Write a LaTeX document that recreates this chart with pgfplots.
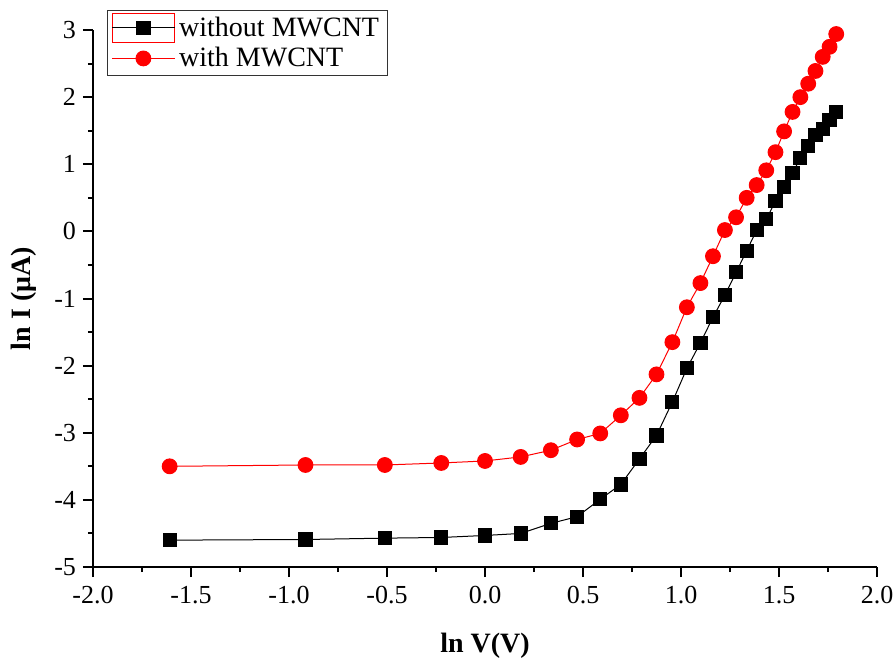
\documentclass[border=0pt]{standalone}
\usepackage{pgfplots}
\pgfplotsset{compat=1.18}
\usepackage{fontspec}
\setmainfont{Liberation Serif}
\pgfplotsset{
  boxlegend/.style={legend image code/.code={
    \draw[red, line width=0.5pt, mark=none, solid] (0cm,-0.26cm) rectangle (1.1cm,0.26cm);
    \draw[mark repeat=2,mark phase=2,##1] plot coordinates {(0cm,0cm) (0.55cm,0cm) (1.1cm,0cm)};
  }},
  longlegend/.style={legend image code/.code={
    \draw[mark repeat=2,mark phase=2,##1] plot coordinates {(0cm,0cm) (0.55cm,0cm) (1.1cm,0cm)};
  }},
}
\begin{document}
\begin{tikzpicture}
\begin{axis}[
  width=392pt, height=268.5pt, scale only axis,
  xmin=-2, xmax=2, ymin=-5, ymax=3,
  axis x line*=bottom, axis y line*=left,
  axis line style={line width=1pt},
  xtick={-2,-1.5,...,2},
  xticklabels={-2.0,-1.5,-1.0,-0.5,0.0,0.5,1.0,1.5,2.0},
  ytick={-5,-4,...,3},
  yticklabels={-5,-4,-3,-2,-1,0,1,2,3},
  minor x tick num=1, minor y tick num=1,
  tick align=outside,
  major tick length=5pt, minor tick length=2.5pt,
  every tick/.style={line width=1pt, black},
  ticklabel style={font=\fontsize{13}{15}\selectfont},
  xticklabel style={yshift=-1pt},
  xlabel={\textbf{ln V(V)}},
  ylabel={\textbf{ln I (μA)}},
  label style={font=\fontsize{14}{16}\selectfont},
  xlabel style={yshift=-8pt},
  ylabel style={yshift=2pt},
  legend style={at={(rel axis cs:0.018,1.037)}, anchor=north west,
    draw=black!80, line width=0.5pt, font=\fontsize{14}{16}\selectfont,
    inner xsep=2pt, inner ysep=1pt, row sep=0pt, cells={anchor=west}},
  legend cell align=left,
  clip=false,
]
\addplot[black, line width=0.5pt, mark=square*, mark size=3.3pt, mark options={solid, fill=black}, boxlegend]
coordinates {
(-1.609,-4.60) (-0.916,-4.59) (-0.511,-4.57) (-0.223,-4.56) (0.000,-4.53)
(0.182,-4.50) (0.336,-4.35) (0.470,-4.25) (0.588,-3.99) (0.693,-3.77)
(0.788,-3.39) (0.875,-3.04) (0.956,-2.54) (1.030,-2.04) (1.099,-1.66)
(1.163,-1.28) (1.224,-0.95) (1.281,-0.61) (1.335,-0.29) (1.386,0.02)
(1.435,0.18) (1.482,0.45) (1.526,0.66) (1.569,0.87) (1.609,1.09)
(1.649,1.27) (1.686,1.44) (1.723,1.52) (1.758,1.66) (1.792,1.78)
};
\addlegendentry{without MWCNT}
\addplot[red, line width=0.5pt, mark=*, mark size=3.7pt, mark options={solid, fill=red, draw=red}, longlegend]
coordinates {
(-1.609,-3.50) (-0.916,-3.48) (-0.511,-3.48) (-0.223,-3.45) (0.000,-3.42)
(0.182,-3.36) (0.336,-3.26) (0.470,-3.10) (0.588,-3.01) (0.693,-2.74)
(0.788,-2.48) (0.875,-2.13) (0.956,-1.65) (1.030,-1.13) (1.099,-0.77)
(1.163,-0.37) (1.224,0.02) (1.281,0.21) (1.335,0.50) (1.386,0.69)
(1.435,0.91) (1.482,1.18) (1.526,1.49) (1.569,1.78) (1.609,2.00)
(1.649,2.20) (1.686,2.39) (1.723,2.60) (1.758,2.75) (1.792,2.94)
};
\addlegendentry{with MWCNT}
\end{axis}
\pgfresetboundingbox
\path (-46.5pt,-47pt) rectangle (400pt,283.5pt);
\end{tikzpicture}
\end{document}
